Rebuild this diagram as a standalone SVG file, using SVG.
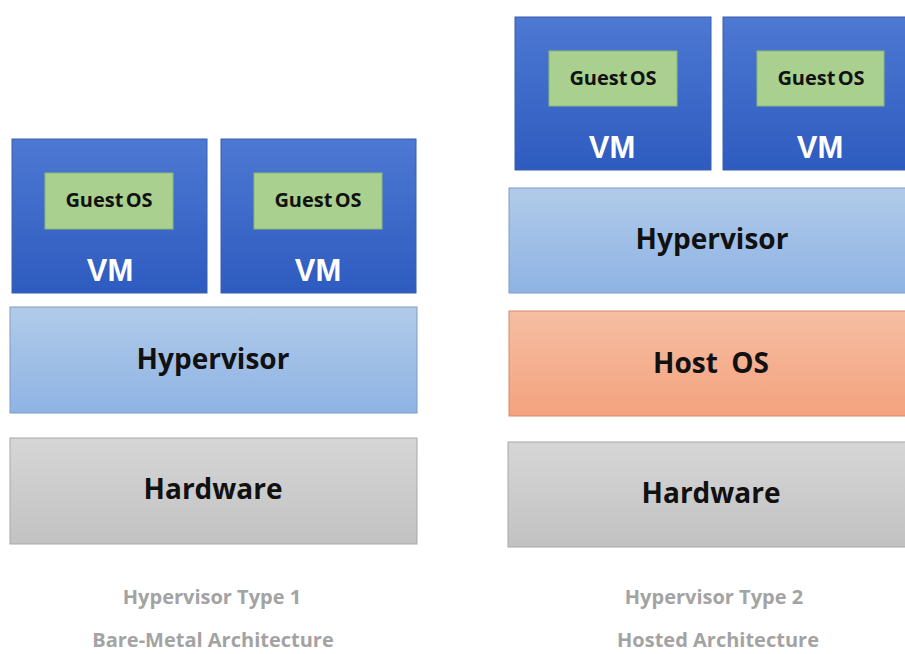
<svg xmlns="http://www.w3.org/2000/svg" width="905" height="654" viewBox="0 0 905 654">
<defs>
<linearGradient id="gVM" x1="0" y1="0" x2="0" y2="1"><stop offset="0" stop-color="#4d79d3"/><stop offset="1" stop-color="#2e5bbf"/></linearGradient>
<linearGradient id="gHyp" x1="0" y1="0" x2="0" y2="1"><stop offset="0" stop-color="#b1cbe9"/><stop offset="1" stop-color="#8eb3e4"/></linearGradient>
<linearGradient id="gHost" x1="0" y1="0" x2="0" y2="1"><stop offset="0" stop-color="#f6bea3"/><stop offset="1" stop-color="#f4a27e"/></linearGradient>
<linearGradient id="gHw" x1="0" y1="0" x2="0" y2="1"><stop offset="0" stop-color="#d6d6d6"/><stop offset="1" stop-color="#c2c2c2"/></linearGradient>
</defs>
<style>
.vm{fill:url(#gVM);stroke:#3a5fa8;stroke-width:1}
.gos{fill:#a9d08e;stroke:#8fb874;stroke-width:1}
.hyp{fill:url(#gHyp);stroke:#7e9cc4;stroke-width:1}
.host{fill:url(#gHost);stroke:#d08a68;stroke-width:1}
.hw{fill:url(#gHw);stroke:#a8a8a8;stroke-width:1}
.tg{font-family:"Open Sans","Noto Sans",sans-serif;font-weight:bold;font-size:20px;fill:#111;text-anchor:middle;word-spacing:-3px}
.tv{font-family:"Liberation Sans",Arial,sans-serif;font-weight:bold;font-size:31px;fill:#ffffff;text-anchor:middle}
.tl{font-family:"Open Sans","Noto Sans",sans-serif;font-weight:bold;font-size:28px;fill:#111;text-anchor:middle}
.tc{font-family:"Open Sans","Noto Sans",sans-serif;font-weight:bold;font-size:20px;fill:#a3a3a3;text-anchor:middle}
</style>
<rect width="905" height="654" fill="#ffffff"/>
<g id="connectors"/>
<!-- Type 1 -->
<g id="vm1"><rect class="vm" x="12" y="139" width="195" height="154"/><text class="tv" x="110" y="281">VM</text></g>
<g id="gos1"><rect class="gos" x="45" y="173" width="128" height="56"/><text class="tg" x="109" y="207">Guest OS</text></g>
<g id="vm2"><rect class="vm" x="221" y="139" width="195" height="154"/><text class="tv" x="318" y="281">VM</text></g>
<g id="gos2"><rect class="gos" x="254" y="173" width="128" height="56"/><text class="tg" x="318" y="207">Guest OS</text></g>
<g id="hyp1"><rect class="hyp" x="10" y="307" width="407" height="106"/><text class="tl" x="213" y="369">Hypervisor</text></g>
<g id="hw1"><rect class="hw" x="10" y="438" width="407" height="106"/><text class="tl" x="213" y="499">Hardware</text></g>
<g id="cap1"><text class="tc" x="212" y="604">Hypervisor Type 1</text><text class="tc" x="213" y="647">Bare-Metal Architecture</text></g>
<!-- Type 2 -->
<g id="vm3"><rect class="vm" x="515" y="17" width="196" height="153"/><text class="tv" x="612" y="158">VM</text></g>
<g id="gos3"><rect class="gos" x="549" y="51" width="128" height="55"/><text class="tg" x="613" y="85">Guest OS</text></g>
<g id="vm4"><rect class="vm" x="723" y="17" width="190" height="153"/><text class="tv" x="820" y="158">VM</text></g>
<g id="gos4"><rect class="gos" x="757" y="51" width="127" height="55"/><text class="tg" x="821" y="85">Guest OS</text></g>
<g id="hyp2"><rect class="hyp" x="509" y="188" width="404" height="105"/><text class="tl" x="712" y="249">Hypervisor</text></g>
<g id="host2"><rect class="host" x="509" y="311" width="404" height="105"/><text class="tl" x="711" y="373" word-spacing="6">Host OS</text></g>
<g id="hw2"><rect class="hw" x="508" y="442" width="405" height="105"/><text class="tl" x="711" y="503">Hardware</text></g>
<g id="cap2"><text class="tc" x="714" y="604">Hypervisor Type 2</text><text class="tc" x="718" y="647">Hosted Architecture</text></g>
</svg>
